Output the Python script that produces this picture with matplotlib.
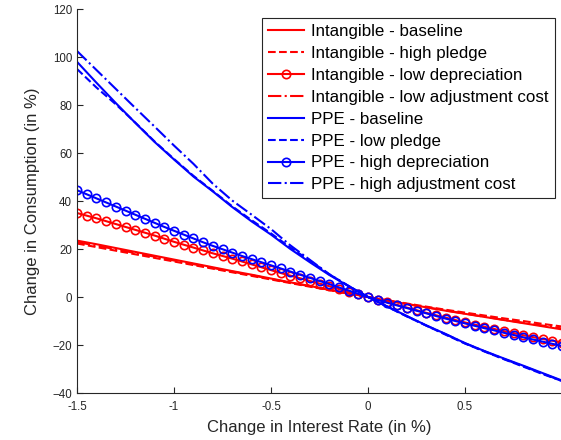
import numpy as np
import matplotlib
matplotlib.use("Agg")
import matplotlib.pyplot as plt

plt.rcParams['font.family'] = ['Liberation Sans', 'DejaVu Sans']

# Griglie sull'asse x (variazione del tasso, in %)
x_line = [-1.5, -1.4, -1.3, -1.2, -1.1, -1.0, -0.9, -0.8, -0.7, -0.6, -0.5, -0.4, -0.3,
          -0.2, -0.1, 0.0, 0.1, 0.2, 0.3, 0.4, 0.5, 0.6, 0.7, 0.8, 0.9, 1.0]
x_mark = [-1.5, -1.45, -1.4, -1.35, -1.3, -1.25, -1.2, -1.15, -1.1, -1.05, -1.0, -0.95, -0.9,
          -0.85, -0.8, -0.75, -0.7, -0.65, -0.6, -0.55, -0.5, -0.45, -0.4, -0.35, -0.3, -0.25,
          -0.2, -0.15, -0.1, -0.05, 0.0, 0.05, 0.1, 0.15, 0.2, 0.25, 0.3, 0.35, 0.4, 0.45, 0.5,
          0.55, 0.6, 0.65, 0.7, 0.75, 0.8, 0.85, 0.9, 0.95, 1.0]

# Intangible
int_base = [23.5, 22.0, 20.4, 18.8, 17.2, 15.6, 14.0, 12.4, 10.8, 9.3, 7.7, 6.1, 4.6,
            3.0, 1.5, 0.0, -1.5, -2.9, -4.3, -5.7, -7.0, -8.3, -9.6, -10.9, -12.2, -13.5]
int_pledge = [22.3, 20.8, 19.3, 17.8, 16.3, 14.8, 13.3, 11.8, 10.3, 8.8, 7.3, 5.8, 4.3,
              2.9, 1.4, 0.0, -1.4, -2.7, -4.0, -5.3, -6.5, -7.7, -8.9, -10.0, -11.2, -12.3]
int_adj = [22.9, 21.4, 19.9, 18.3, 16.8, 15.2, 13.7, 12.1, 10.6, 9.1, 7.5, 6.0, 4.5,
           3.0, 1.5, 0.0, -1.5, -2.9, -4.3, -5.6, -6.9, -8.2, -9.5, -10.7, -11.9, -13.1]
int_dep = [35.0, 33.9, 32.8, 31.6, 30.4, 29.2, 28.0, 26.8, 25.6, 24.3, 23.0, 21.8, 20.6,
           19.4, 18.2, 17.1, 16.0, 14.8, 13.6, 12.4, 11.2, 10.0, 8.9, 7.8, 6.7, 5.6,
           4.5, 3.3, 2.2, 1.1, 0.0, -1.1, -2.2, -3.3, -4.4, -5.5, -6.6, -7.6, -8.6, -9.6, -10.6,
           -11.5, -12.4, -13.3, -14.2, -15.0, -15.9, -16.7, -17.5, -18.2, -19.0]

# PPE
ppe_base = [98.0, 89.3, 80.8, 72.6, 64.6, 57.3, 50.2, 44.0, 37.5, 31.5, 26.0, 20.0, 14.5,
            9.2, 4.5, 0.0, -4.0, -7.9, -11.8, -15.4, -19.2, -22.5, -25.6, -28.6, -31.7, -34.8]
ppe_pledge = [95.0, 87.3, 80.3, 72.7, 64.8, 57.5, 50.5, 44.2, 37.8, 32.0, 26.5, 20.6, 15.2,
              9.5, 4.6, 0.0, -4.1, -8.1, -11.9, -15.7, -19.4, -22.7, -25.9, -29.0, -32.1, -35.0]
ppe_dep = [44.5, 42.8, 41.1, 39.4, 37.7, 36.0, 34.3, 32.6, 30.9, 29.2, 27.6, 26.0, 24.4,
           22.8, 21.3, 19.9, 18.5, 17.1, 15.8, 14.5, 13.2, 11.9, 10.6, 9.3, 8.0, 6.7,
           5.4, 4.0, 2.7, 1.3, 0.0, -1.2, -2.4, -3.5, -4.6, -5.7, -6.8, -7.9, -9.0, -10.0, -11.0,
           -12.0, -13.0, -13.9, -14.9, -15.8, -16.8, -17.7, -18.6, -19.5, -20.4]
ppe_adj = [102.5, 94.6, 86.7, 78.8, 71.0, 63.1, 55.5, 47.2, 40.2, 34.3, 28.3, 21.5, 15.5,
           9.5, 4.6, 0.0, -4.0, -8.0, -11.9, -15.5, -19.3, -22.6, -25.8, -28.8, -31.9, -35.0]

xticks = [-1.5, -1, -0.5, 0, 0.5, 1]
xtick_labels = ["-1.5", "-1", "-0.5", "0", "0.5", ""]
yticks = [-40, -20, 0, 20, 40, 60, 80, 100, 120]

fig = plt.figure(figsize=(5.61, 4.40), dpi=100)
ax = fig.add_axes([0.1373, 0.1068, 0.8645, 0.8727])

lw = 1.5
ax.plot(x_line, int_base, color="red", linestyle="-", linewidth=lw, label="Intangible - baseline")
ax.plot(x_line, int_pledge, color="red", linestyle="--", linewidth=lw, label="Intangible - high pledge")
ax.plot(x_mark, int_dep, color="red", linestyle="-", linewidth=lw, marker="o", markersize=6,
        markerfacecolor="none", markeredgewidth=1.2, label="Intangible - low depreciation")
ax.plot(x_line, int_adj, color="red", linestyle="-.", linewidth=lw, label="Intangible - low adjustment cost")
ax.plot(x_line, ppe_base, color="blue", linestyle="-", linewidth=lw, label="PPE - baseline")
ax.plot(x_line, ppe_pledge, color="blue", linestyle="--", linewidth=lw, label="PPE - low pledge")
ax.plot(x_mark, ppe_dep, color="blue", linestyle="-", linewidth=lw, marker="o", markersize=6,
        markerfacecolor="none", markeredgewidth=1.2, label="PPE - high depreciation")
ax.plot(x_line, ppe_adj, color="blue", linestyle="-.", linewidth=lw, label="PPE - high adjustment cost")

ax.set_xlim(-1.5, 1)
ax.set_ylim(-40, 120)
ax.set_xticks(xticks)
ax.set_xticklabels(xtick_labels)
ax.set_yticks(yticks)
ax.tick_params(direction="in", length=4, labelsize=8.3, colors="#262626")
ax.tick_params(axis="x", pad=6)
for s in ["top", "right"]:
    ax.spines[s].set_visible(False)
for s in ["left", "bottom"]:
    ax.spines[s].set_color("#262626")
    ax.spines[s].set_linewidth(0.8)

ax.set_xlabel("Change in Interest Rate (in %)", fontsize=12, color="#262626", labelpad=5)
ax.set_ylabel("Change in Consumption (in %)", fontsize=12, color="#262626", labelpad=9)

leg = ax.legend(loc="upper right", bbox_to_anchor=(0.985, 0.977), fontsize=12.2, frameon=True,
                fancybox=False, framealpha=1, edgecolor="#262626", handlelength=2.1,
                labelspacing=0.41, borderpad=0.35, handletextpad=0.45, borderaxespad=0)
leg.get_frame().set_linewidth(0.8)

fig.savefig("out.png", dpi=100)
